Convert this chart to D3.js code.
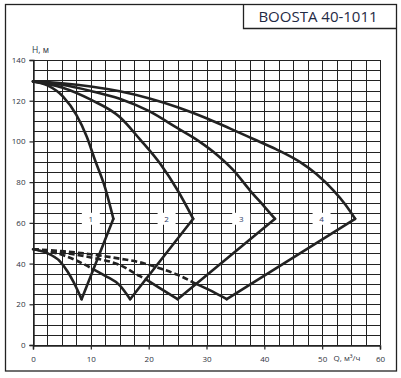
<!DOCTYPE html>
<html>
<head>
<meta charset="utf-8">
<script src="https://cdn.jsdelivr.net/npm/d3@7"></script>
<style>
  body { margin: 0; background: #fff; }
  svg { display: block; font-family: "Open Sans", sans-serif; }
</style>
</head>
<body>
<svg id="chart" width="401" height="378"></svg>
<script>
// ---- data ----
const title = "BOOSTA 40-1011";
const xTicks = [0, 10, 20, 30, 40, 50, 60];
const yTicks = [0, 20, 40, 60, 80, 100, 120, 140];
const curveNames = ["1", "2", "3", "4"];
const labelX = [10, 23.1, 36, 49.9];
const labelY = 62;

// H(Q) upper branches, start at shut-off head and end at the kink
const upper1 = [[0, 129.5], [2.5, 127.5], [5.2, 122], [7.5, 113], [9.3, 102.3], [10.7, 91], [12.5, 77], [13.9, 62]];
const upper2 = [[0, 129.5], [5, 126.5], [10, 120.5], [15, 112], [18.5, 101], [22, 89], [25, 76], [27.7, 62]];
const upper3 = [[0, 129.5], [5, 127.8], [10, 124.8], [15, 121], [20, 115], [25, 106.5], [28.6, 100.3], [32, 93], [34.6, 86], [37.5, 76], [40, 68], [41.85, 62]];
const upper4 = [[0, 129.5], [5, 128.6], [10, 127], [15, 124.6], [20, 121.2], [25, 116.8], [30, 111.4], [34.1, 106.3], [38.1, 101.2], [42, 96.2], [46.2, 89.8], [49, 84], [51.9, 76.1], [54, 69], [55.7, 62]];

// lower branches: dashed part (inside the previous loop) and solid part
const lowerDash2 = [[0, 47], [2.5, 46], [5, 44.3], [7.5, 41.5], [10.45, 37.2]];
const lowerDash3 = [[0, 47], [5, 45.4], [10, 43], [15, 39.3], [18.5, 33.8], [19.5, 32.3]];
const lowerDash4 = [[0, 47], [5, 46.1], [10, 44.6], [15, 42.4], [18.5, 40.6], [22, 37.6], [25, 34.5], [28.2, 30]];
const lowerSolid1 = [[0, 47], [2.4, 45.2], [4.7, 41], [6, 36], [7, 31], [8.4, 22.5]];
const lowerSolid2 = [[10.45, 37.2], [12.5, 34], [15, 29.3], [16.8, 22.5]];
const lowerSolid3 = [[19.5, 32.3], [22, 27.8], [25, 22.5]];
const lowerSolid4 = [[28.2, 30], [31, 26.3], [33.5, 22.5]];

// rising straight lines from the minimum up to the kink
const rise1 = [[8.4, 22.5], [13.9, 62]];
const rise2 = [[16.8, 22.5], [27.7, 62]];
const rise3 = [[25, 22.5], [41.85, 62]];
const rise4 = [[33.5, 22.5], [55.7, 62]];

// ---- drawing ----
const svg = d3.select("#chart");
const ink = "#222";
const textCol = "#2e3340";

const x = d3.scaleLinear().domain([0, 60]).range([33, 380]);
const y = d3.scaleLinear().domain([0, 140]).range([345, 60]);

// outer frame and title box
svg.append("rect")
  .attr("x", 5.5).attr("y", 4.5)
  .attr("width", 391).attr("height", 366.5)
  .attr("fill", "none").attr("stroke", ink).attr("stroke-width", 1.3);
svg.append("path")
  .attr("d", "M243.5,4.5V28.5H396.5")
  .attr("fill", "none").attr("stroke", ink).attr("stroke-width", 1.3);
svg.append("text")
  .attr("x", 318).attr("y", 21.5)
  .attr("text-anchor", "middle")
  .attr("font-size", 15)
  .attr("fill", "#1f2a44")
  .text(title);

// grid
const grid = svg.append("g").attr("class", "grid")
  .attr("stroke", ink).attr("stroke-width", 1);
grid.selectAll("line.v")
  .data(d3.range(0, 60.01, 2.5))
  .join("line")
  .attr("class", "v")
  .attr("x1", d => Math.round(x(d)) + 0.5).attr("x2", d => Math.round(x(d)) + 0.5)
  .attr("y1", y(0)).attr("y2", y(140));
grid.selectAll("line.h")
  .data(d3.range(0, 140.01, 5))
  .join("line")
  .attr("class", "h")
  .attr("y1", d => Math.round(y(d)) + 0.5).attr("y2", d => Math.round(y(d)) + 0.5)
  .attr("x1", x(0)).attr("x2", x(60));

// axes
const xAxis = svg.append("g")
  .attr("transform", `translate(0,${Math.round(y(0)) + 0.5})`)
  .call(d3.axisBottom(x).tickValues(xTicks).tickSize(4).tickPadding(7).tickFormat(d3.format("d")));
const yAxis = svg.append("g")
  .attr("transform", `translate(${Math.round(x(0)) + 0.5},0)`)
  .call(d3.axisLeft(y).tickValues(yTicks).tickSize(4).tickPadding(4).tickFormat(d3.format("d")));
[xAxis, yAxis].forEach(a => {
  a.select(".domain").attr("stroke", ink).attr("stroke-width", 1.4);
  a.selectAll(".tick line").attr("stroke", ink).attr("stroke-width", 1.2);
  a.selectAll(".tick text").attr("font-size", 8).attr("fill", textCol)
    .attr("font-family", "Open Sans, sans-serif");
});

svg.append("text")
  .attr("x", 347).attr("y", 361)
  .attr("text-anchor", "middle")
  .attr("font-size", 8).attr("fill", textCol)
  .text("Q, м³/ч");
svg.append("text")
  .attr("x", 32).attr("y", 53)
  .attr("font-size", 8.5).attr("fill", textCol)
  .text("H, м");

// curves
const smooth = d3.line().x(d => x(d[0])).y(d => y(d[1])).curve(d3.curveMonotoneX);
const straight = d3.line().x(d => x(d[0])).y(d => y(d[1]));
const curves = svg.append("g")
  .attr("fill", "none").attr("stroke", ink)
  .attr("stroke-width", 2.6).attr("stroke-linecap", "round").attr("stroke-linejoin", "round");

[upper1, upper2, upper3, upper4, lowerSolid1, lowerSolid2, lowerSolid3, lowerSolid4].forEach(pts => {
  curves.append("path").attr("d", smooth(pts));
});
[rise1, rise2, rise3, rise4].forEach(pts => {
  curves.append("path").attr("d", straight(pts));
});
[lowerDash2, lowerDash3, lowerDash4].forEach(pts => {
  curves.append("path").attr("d", smooth(pts))
    .attr("stroke-dasharray", "6,3").attr("stroke-linecap", "butt");
});

// curve numbers on white patches
const lab = svg.append("g");
lab.selectAll("rect")
  .data(labelX)
  .join("rect")
  .attr("x", d => x(d) - 9).attr("y", y(labelY) - 6)
  .attr("width", 18).attr("height", 12)
  .attr("fill", "#fff");
lab.selectAll("text")
  .data(curveNames)
  .join("text")
  .attr("x", (d, i) => x(labelX[i]))
  .attr("y", y(labelY) + 3)
  .attr("text-anchor", "middle")
  .attr("font-size", 8)
  .attr("fill", "#2c3a66")
  .text(d => d);
</script>
</body>
</html>
